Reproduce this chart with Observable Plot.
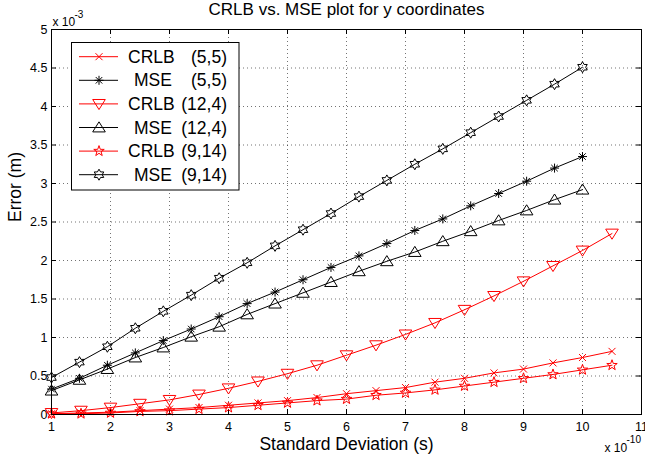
<!DOCTYPE html>
<html>
<head>
<meta charset="utf-8">
<script src="https://cdn.jsdelivr.net/npm/d3@7"></script>
<script src="https://cdn.jsdelivr.net/npm/@observablehq/plot@0.6"></script>
<style>
  html, body { margin: 0; padding: 0; background: #fff; }
  svg { display: block; }
</style>
</head>
<body>
<script>
// ---------- data (y values in units of 1e-3 m, x in units of 1e-10 s) ----------
const titleText = "CRLB vs. MSE plot for y coordinates";
const xLabel = "Standard Deviation (s)";
const yLabel = "Error (m)";
const xTicks = [1, 2, 3, 4, 5, 6, 7, 8, 9, 10, 11];
const yTicks = [0, 0.5, 1, 1.5, 2, 2.5, 3, 3.5, 4, 4.5, 5];
const xGrid = [2, 3, 4, 5, 6, 7, 8, 9, 10];
const yGrid = [0.5, 1, 1.5, 2, 2.5, 3, 3.5, 4, 4.5];

const xCRLB = [1, 1.5, 2, 2.5, 3, 3.5, 4, 4.5, 5, 5.5, 6, 6.5, 7, 7.5, 8, 8.5, 9, 9.5, 10, 10.5];
const xMSE = [1, 1.474, 1.947, 2.421, 2.895, 3.368, 3.842, 4.316, 4.789, 5.263, 5.737, 6.211, 6.684, 7.158, 7.632, 8.105, 8.579, 9.053, 9.526, 10];

const crlb55 = [0.01, 0.02, 0.03, 0.05, 0.07, 0.09, 0.12, 0.15, 0.18, 0.22, 0.27, 0.31, 0.35, 0.42, 0.47, 0.54, 0.59, 0.67, 0.74, 0.82];
const mse55 = [0.33, 0.47, 0.64, 0.80, 0.96, 1.11, 1.27, 1.44, 1.59, 1.75, 1.91, 2.06, 2.22, 2.39, 2.54, 2.71, 2.87, 3.03, 3.20, 3.35];
const crlb124 = [0.02, 0.05, 0.09, 0.14, 0.19, 0.26, 0.34, 0.43, 0.53, 0.64, 0.77, 0.90, 1.04, 1.19, 1.36, 1.54, 1.73, 1.93, 2.13, 2.35];
const mse124 = [0.31, 0.45, 0.59, 0.74, 0.87, 1.01, 1.14, 1.30, 1.44, 1.58, 1.72, 1.86, 1.99, 2.11, 2.25, 2.38, 2.52, 2.65, 2.79, 2.92];
const crlb914 = [0.01, 0.01, 0.02, 0.04, 0.05, 0.07, 0.09, 0.12, 0.15, 0.18, 0.20, 0.25, 0.28, 0.32, 0.37, 0.42, 0.47, 0.52, 0.58, 0.64];
const mse914 = [0.48, 0.68, 0.88, 1.12, 1.34, 1.55, 1.77, 1.97, 2.19, 2.40, 2.61, 2.83, 3.04, 3.25, 3.45, 3.66, 3.87, 4.08, 4.29, 4.51];

const seriesNames = ["CRLB", "MSE", "CRLB", "MSE", "CRLB", "MSE"];
const seriesCoords = ["(5,5)", "(5,5)", "(12,4)", "(12,4)", "(9,14)", "(9,14)"];

// ---------- marker shapes (MATLAB-like, outlined) ----------
function sym(fn) { return { draw(ctx, size) { fn(ctx, Math.sqrt(size / Math.PI)); } }; }
const symX = sym((c, r) => { c.moveTo(-r, -r); c.lineTo(r, r); c.moveTo(-r, r); c.lineTo(r, -r); });
const symAst = sym((c, r) => {
  const d = r * 0.72;
  c.moveTo(-r, 0); c.lineTo(r, 0); c.moveTo(0, -r); c.lineTo(0, r);
  c.moveTo(-d, -d); c.lineTo(d, d); c.moveTo(-d, d); c.lineTo(d, -d);
});
const symTriDown = sym((c, r) => { c.moveTo(-r, -0.7 * r); c.lineTo(r, -0.7 * r); c.lineTo(0, 0.9 * r); c.closePath(); });
const symTriUp = sym((c, r) => { c.moveTo(0, -0.9 * r); c.lineTo(r, 0.7 * r); c.lineTo(-r, 0.7 * r); c.closePath(); });
function starPath(points, inner) {
  return sym((c, r) => {
    for (let i = 0; i < points * 2; i++) {
      const a = -Math.PI / 2 + i * Math.PI / points;
      const rr = i % 2 ? r * inner : r;
      const px = rr * Math.cos(a), py = rr * Math.sin(a);
      if (i === 0) c.moveTo(px, py); else c.lineTo(px, py);
    }
    c.closePath();
  });
}
const symPent = starPath(5, 0.4);
const symHex = starPath(6, 0.577);

const RED = "#ff0000", BLK = "#000000";
const series = [
  { xs: xCRLB, ys: crlb55, color: RED, symbol: symX, r: 3.5 },
  { xs: xMSE, ys: mse55, color: BLK, symbol: symAst, r: 4.5 },
  { xs: xCRLB, ys: crlb124, color: RED, symbol: symTriDown, r: 6.3 },
  { xs: xMSE, ys: mse124, color: BLK, symbol: symTriUp, r: 6.3 },
  { xs: xCRLB, ys: crlb914, color: RED, symbol: symPent, r: 5.5 },
  { xs: xMSE, ys: mse914, color: BLK, symbol: symHex, r: 5.5 }
];

// ---------- layout ----------
const W = 645, H = 455;
const mL = 51, mR = 4, mT = 29, mB = 41;
const fw = W - mL - mR, fh = H - mT - mB;
const FONT = "'Liberation Sans', Arial, Helvetica, sans-serif";

const dataMarks = [];
series.forEach(s => {
  const rows = s.xs.map((x, i) => ({ x, y: s.ys[i] }));
  dataMarks.push(Plot.line(rows, { x: "x", y: "y", stroke: s.color, strokeWidth: 1 }));
  dataMarks.push(Plot.dot(rows, { x: "x", y: "y", symbol: s.symbol, r: s.r, stroke: s.color, fill: "none", strokeWidth: 1 }));
});

const txt = (s, o) => Plot.text([s], { text: d => d, lineAnchor: "middle", ...o });

const plot = Plot.plot({
  width: W, height: H,
  marginLeft: mL, marginRight: mR, marginTop: mT, marginBottom: mB,
  style: { fontFamily: FONT, background: "#fff", color: "#000", overflow: "visible" },
  x: { domain: [1, 11], label: null },
  y: { domain: [0, 5], label: null },
  marks: [
    // dotted grid
    Plot.ruleX(xGrid, { stroke: "#000", strokeOpacity: 0.55, strokeDasharray: "1,3" }),
    Plot.ruleY(yGrid, { stroke: "#000", strokeOpacity: 0.55, strokeDasharray: "1,3" }),
    // inward ticks on all four sides
    Plot.ruleX(xTicks, { stroke: "#000", insetTop: fh - 5 }),
    Plot.ruleX(xTicks, { stroke: "#000", insetBottom: fh - 5 }),
    Plot.ruleY(yTicks, { stroke: "#000", insetRight: fw - 5 }),
    Plot.ruleY(yTicks, { stroke: "#000", insetLeft: fw - 5 }),
    Plot.axisX({ ticks: xTicks, tickSize: 0, tickPadding: 8, fontSize: 12.5, label: null, tickFormat: d => String(d) }),
    Plot.axisY({ ticks: yTicks, tickSize: 0, tickPadding: 4, fontSize: 12.5, label: null, tickFormat: d => String(d) }),
    ...dataMarks,
    Plot.frame({ stroke: "#000", strokeWidth: 1 }),
    // title and axis labels
    txt(titleText, { frameAnchor: "top", dy: -20.4, fontSize: 17 }),
    txt(xLabel, { frameAnchor: "bottom", dy: 29.6, fontSize: 17.5 }),
    txt(yLabel, { frameAnchor: "left", dx: -36.4, rotate: -90, fontSize: 17.5 }),
    // exponent labels
    txt("x 10", { frameAnchor: "top-left", textAnchor: "start", dx: 1, dy: -7.8, fontSize: 12 }),
    txt("-3", { frameAnchor: "top-left", textAnchor: "start", dx: 23, dy: -15.2, fontSize: 10 }),
    txt("x 10", { frameAnchor: "bottom-right", textAnchor: "start", dx: -37, dy: 33.5, fontSize: 12 }),
    txt("-10", { frameAnchor: "bottom-right", textAnchor: "start", dx: -15, dy: 25, fontSize: 10 })
  ]
});

// ---------- legend (drawn into the same SVG) ----------
const svg = d3.select(plot);
const lg = svg.append("g").attr("font-family", FONT).attr("font-size", 17.5).attr("text-anchor", "start");
lg.append("rect").attr("x", 71.5).attr("y", 42.5).attr("width", 167.5).attr("height", 147.5)
  .attr("fill", "#fff").attr("stroke", "#000").attr("stroke-width", 1);
series.forEach((s, i) => {
  const cy = 56.7 + i * 23.6;
  lg.append("line").attr("x1", 79).attr("x2", 118).attr("y1", cy).attr("y2", cy)
    .attr("stroke", s.color).attr("stroke-width", 1);
  lg.append("path").attr("d", d3.symbol().type(s.symbol).size(Math.PI * s.r * s.r)())
    .attr("transform", `translate(99,${cy})`).attr("fill", "none").attr("stroke", s.color).attr("stroke-width", 1);
  lg.append("text").attr("x", seriesNames[i] === "MSE" ? 134 : 128).attr("y", cy).attr("dy", "0.35em")
    .attr("text-anchor", "start").attr("fill", "#000").text(seriesNames[i]);
  lg.append("text").attr("x", 227).attr("y", cy).attr("dy", "0.35em").attr("text-anchor", "end")
    .attr("fill", "#000").text(seriesCoords[i]);
});

document.body.appendChild(plot);
</script>
</body>
</html>
